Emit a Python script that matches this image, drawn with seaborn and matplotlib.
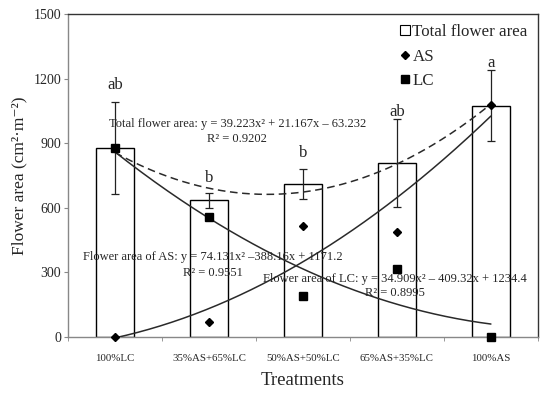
import numpy as np
import pandas as pd
import matplotlib
matplotlib.use("Agg")
import matplotlib.pyplot as plt
import seaborn as sns
from matplotlib.lines import Line2D

treatments = ["100%LC", "35%AS+65%LC", "50%AS+50%LC", "65%AS+35%LC", "100%AS"]
total_area = [878, 636, 711, 808, 1073]
total_err = [215, 35, 70, 205, 165]
as_area = [0, 70, 516, 488, 1078]
lc_area = [878, 557, 190, 316, 0]
letters = ["ab", "b", "b", "ab", "a"]

sns.set_style("white")
plt.rcParams["font.family"] = ["Liberation Serif", "DejaVu Serif"]

df = pd.DataFrame({"treatment": treatments, "total": total_area,
                   "AS": as_area, "LC": lc_area})
pos = np.arange(len(treatments))

fig = plt.figure(figsize=(5.5, 3.98), dpi=100)
ax = fig.add_axes([0.1236, 0.153, 0.8544, 0.812])

sns.barplot(data=df, x="treatment", y="total", color="white", edgecolor="black",
            linewidth=1.0, width=0.4, errorbar=None, ax=ax, zorder=2)
ax.errorbar(pos, total_area, yerr=total_err, fmt="none", ecolor="#222222",
            elinewidth=0.9, capsize=3, capthick=0.9, zorder=3)

# quadratic trendlines fitted on x = 1..5 (Excel style)
xs = pos + 1
xx = np.linspace(1, 5, 200)
for col, ls in [("total", (0, (5, 3))), ("AS", "-"), ("LC", "-")]:
    coef = np.polyfit(xs, df[col], 2)
    ax.plot(xx - 1, np.polyval(coef, xx), color="#2a2a2a", lw=1.1, ls=ls, zorder=4)

ax.plot(pos, as_area, ls="none", marker="D", ms=3.6, color="black", zorder=5, clip_on=False)
ax.plot(pos, lc_area, ls="none", marker="s", ms=5.5, color="black", zorder=5, clip_on=False)

letter_y = [1170, 738, 855, 1045, 1272]
for p, lt, ly in zip(pos, letters, letter_y):
    ax.text(p, ly, lt, ha="center", va="center", fontsize=12)

eq_fs = 9
ax.text(1.30, 989, "Total flower area: y = 39.223x² + 21.167x \u2013 63.232",
        ha="center", va="center", fontsize=eq_fs, zorder=6)
ax.text(1.30, 920, "R² = 0.9202", ha="center", va="center", fontsize=eq_fs, zorder=6)
ax.text(1.04, 372, "Flower area of AS: y = 74.131x² \u2013388.16x + 1171.2",
        ha="center", va="center", fontsize=eq_fs, zorder=6)
ax.text(1.04, 297, "R² = 0.9551", ha="center", va="center", fontsize=eq_fs, zorder=6)
ax.text(2.98, 269, "Flower area of LC: y = 34.909x² \u2013 409.32x + 1234.4",
        ha="center", va="center", fontsize=eq_fs, zorder=6)
ax.text(2.98, 204, "R² = 0.8995", ha="center", va="center", fontsize=eq_fs, zorder=6)

ax.set_xlim(-0.5, 4.5)
ax.set_ylim(0, 1500)
ax.set_yticks(range(0, 1501, 300))
ax.tick_params(axis="y", labelsize=10, length=3, direction="out", left=True,
               color="#888888", pad=2)
ax.tick_params(axis="x", labelsize=7.8, length=0, pad=12)
ax.set_xticks(np.arange(-0.5, 4.6, 1), minor=True)
ax.tick_params(axis="x", which="minor", length=3, direction="out", bottom=True, color="#888888")
for s in ["top", "right"]:
    ax.spines[s].set_color("#333333")
for s in ["left", "bottom"]:
    ax.spines[s].set_color("#888888")
for s in ax.spines.values():
    s.set_linewidth(1.0)

ax.set_xlabel("Treatments", fontsize=13.5, labelpad=7)
ax.set_ylabel("Flower area (cm²\u00b7m\u207b²)", fontsize=12.5, labelpad=4)

handles = [
    Line2D([], [], ls="none", marker="s", ms=7, mfc="white", mec="black", mew=0.8),
    Line2D([], [], ls="none", marker="D", ms=3.6, color="black"),
    Line2D([], [], ls="none", marker="s", ms=5.5, color="black"),
]
ax.legend(handles, ["Total flower area", "AS", "LC"], loc="upper right",
          bbox_to_anchor=(1.0, 1.0), frameon=False, fontsize=12.2,
          handlelength=0.6, handletextpad=0.15, labelspacing=0.5, borderaxespad=0.2)

fig.savefig("out.png", dpi=100)
